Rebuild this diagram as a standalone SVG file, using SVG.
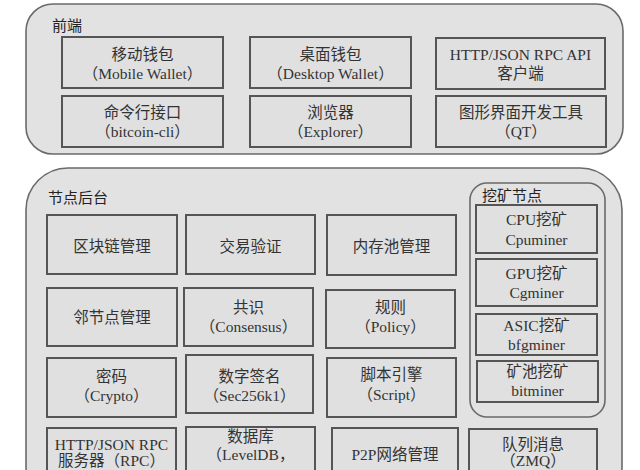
<svg xmlns="http://www.w3.org/2000/svg" width="640" height="470" viewBox="0 0 640 470">
<style>
.outer{fill:#e2e2e2;stroke:#6a6a6a;stroke-width:1.6}
.box{fill:#e0e0e0;stroke:#555;stroke-width:2}
.t{font-family:"Liberation Serif","Noto Sans CJK SC",serif;font-size:15.5px;fill:#333;text-anchor:middle}
.lbl{font-family:"Noto Sans CJK SC","Noto Sans",sans-serif;font-size:15px;fill:#222}
</style>
<rect width="640" height="470" fill="#fff"/>
<g id="frontend">
<rect class="outer" x="26" y="4" width="597" height="150" rx="27" ry="27"/>
<text class="lbl" x="52" y="31">前端</text>
</g>
<g id="mobile-wallet"><rect class="box" x="62" y="37" width="161" height="51"/><text class="t" x="142.5" y="60">移动钱包</text><text class="t" x="142.5" y="79">（Mobile Wallet）</text></g>
<g id="desktop-wallet"><rect class="box" x="250" y="37" width="161" height="51"/><text class="t" x="330.5" y="60">桌面钱包</text><text class="t" x="330.5" y="79">（Desktop Wallet）</text></g>
<g id="rpc-client"><rect class="box" x="436" y="38" width="169" height="51"/><text class="t" x="520.5" y="60">HTTP/JSON RPC API</text><text class="t" x="520.5" y="79">客户端</text></g>
<g id="bitcoin-cli"><rect class="box" x="62" y="96" width="161" height="51"/><text class="t" x="142.5" y="118">命令行接口</text><text class="t" x="142.5" y="137">（bitcoin-cli）</text></g>
<g id="explorer"><rect class="box" x="250" y="96" width="161" height="51"/><text class="t" x="330.5" y="118">浏览器</text><text class="t" x="330.5" y="137">（Explorer）</text></g>
<g id="qt"><rect class="box" x="436" y="96" width="170" height="51"/><text class="t" x="521" y="118">图形界面开发工具</text><text class="t" x="521" y="137">（QT）</text></g>

<g id="backend">
<rect class="outer" x="26" y="168" width="596" height="340" rx="42" ry="42"/>
<text class="lbl" x="48" y="203">节点后台</text>
</g>
<g id="blockchain-mgmt"><rect class="box" x="47" y="215" width="130" height="59"/><text class="t" x="112" y="252">区块链管理</text></g>
<g id="tx-validation"><rect class="box" x="186" y="215" width="129" height="59"/><text class="t" x="250.5" y="252">交易验证</text></g>
<g id="mempool"><rect class="box" x="327" y="215" width="129" height="60"/><text class="t" x="391.5" y="252">内存池管理</text></g>
<g id="peer-mgmt"><rect class="box" x="47" y="288" width="130" height="58"/><text class="t" x="112" y="323">邻节点管理</text></g>
<g id="consensus"><rect class="box" x="184" y="288" width="129" height="58"/><text class="t" x="248.5" y="313">共识</text><text class="t" x="248.5" y="332">（Consensus）</text></g>
<g id="policy"><rect class="box" x="326" y="290" width="129" height="58"/><text class="t" x="390.5" y="313">规则</text><text class="t" x="390.5" y="332">（Policy）</text></g>
<g id="crypto"><rect class="box" x="47" y="358" width="129" height="59"/><text class="t" x="111.5" y="382">密码</text><text class="t" x="111.5" y="401">（Crypto）</text></g>
<g id="signature"><rect class="box" x="186" y="355" width="127" height="58"/><text class="t" x="249.5" y="382">数字签名</text><text class="t" x="249.5" y="401">（Sec256k1）</text></g>
<g id="script"><rect class="box" x="327" y="358" width="129" height="59"/><text class="t" x="391.5" y="380">脚本引擎</text><text class="t" x="391.5" y="400">（Script）</text></g>
<g id="rpc-server"><rect class="box" x="47" y="428" width="129" height="60"/><text class="t" x="111.5" y="450">HTTP/JSON RPC</text><text class="t" x="111.5" y="466">服务器（RPC）</text></g>
<g id="database"><rect class="box" x="186" y="427" width="129" height="60"/><text class="t" x="250.5" y="442">数据库</text><text class="t" x="250.5" y="460">（LevelDB，</text></g>
<g id="p2p"><rect class="box" x="332" y="428" width="126" height="60"/><text class="t" x="395" y="460">P2P网络管理</text></g>
<g id="zmq"><rect class="box" x="469" y="429" width="128" height="60"/><text class="t" x="533" y="450">队列消息</text><text class="t" x="533" y="466">（ZMQ）</text></g>

<g id="mining">
<rect class="outer" x="470" y="183" width="135" height="234" rx="17" ry="17"/>
<text class="lbl" x="482" y="201">挖矿节点</text>
</g>
<g id="cpu"><rect class="box" x="476" y="205" width="121" height="48"/><text class="t" x="536.5" y="225">CPU挖矿</text><text class="t" x="536.5" y="245">Cpuminer</text></g>
<g id="gpu"><rect class="box" x="476" y="259" width="121" height="47"/><text class="t" x="536.5" y="279">GPU挖矿</text><text class="t" x="536.5" y="298">Cgminer</text></g>
<g id="asic"><rect class="box" x="476" y="314" width="121" height="41"/><text class="t" x="536.5" y="331">ASIC挖矿</text><text class="t" x="536.5" y="350">bfgminer</text></g>
<g id="pool"><rect class="box" x="477" y="361" width="121" height="41"/><text class="t" x="537.5" y="377">矿池挖矿</text><text class="t" x="537.5" y="396">bitminer</text></g>

<g id="connectors"></g>
</svg>
